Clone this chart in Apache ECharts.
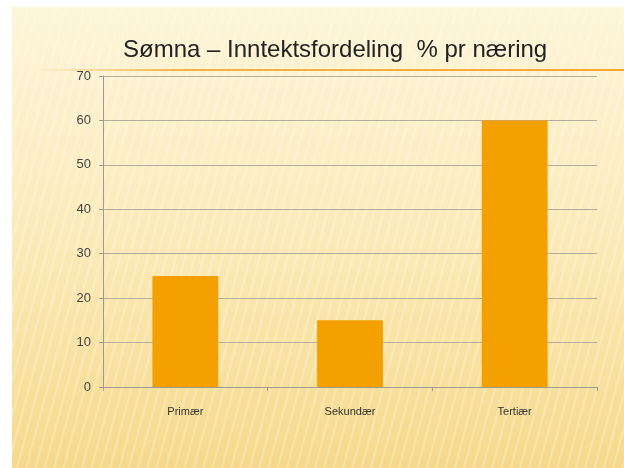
<!DOCTYPE html>
<html>
<head>
<meta charset="utf-8">
<script src="https://cdn.jsdelivr.net/npm/echarts@6/dist/echarts.min.js"></script>
<style>
    html, body { margin: 0; padding: 0; background: #fff; }
    .slide {
        position: absolute; left: 12px; top: 7px; width: 612px; height: 461px;
        background:
            repeating-linear-gradient(105deg, rgba(255,255,255,0) 0px, rgba(255,255,255,0) 5px, rgba(255,255,255,0.28) 7px, rgba(255,255,255,0) 9px),
            linear-gradient(180deg, #fdf5d8 0%, #fcedc0 40%, #f9e2a2 75%, #f6d88a 100%);
    }
    .chartcon { position: absolute; left: 0; top: 0; width: 624px; height: 468px; }
</style>
</head>
<body>
<div class="slide"></div>
<div class="chartcon" id="barChart"></div>
<script>
    // 数据
    let categories = ['Primær', 'Sekundær', 'Tertiær'];
    let values = [25, 15, 60];
    let yTicks = [0, 10, 20, 30, 40, 50, 60, 70];

    let myChart = echarts.init(document.getElementById('barChart'));
    myChart.setOption({
        backgroundColor: 'transparent',
        textStyle: { fontFamily: 'Liberation Sans' },
        title: {
            text: 'Sømna – Inntektsfordeling  % pr næring',
            left: 118,
            top: 33,
            textStyle: {
                fontFamily: 'Liberation Sans',
                fontSize: 24,
                fontWeight: 'normal',
                color: '#222'
            }
        },
        graphic: [{
            type: 'line',
            shape: { x1: 38, y1: 70, x2: 624, y2: 70 },
            style: {
                lineWidth: 2,
                stroke: new echarts.graphic.LinearGradient(0, 0, 1, 0, [
                    { offset: 0, color: 'rgba(245,170,50,0)' },
                    { offset: 0.25, color: 'rgba(245,170,50,0.9)' },
                    { offset: 1, color: '#f4a830' }
                ])
            },
            z: 0
        }],
        grid: {
            left: 103,
            right: 27,
            top: 76,
            bottom: 81
        },
        xAxis: {
            type: 'category',
            data: categories,
            axisLine: { lineStyle: { color: '#9f9b92' } },
            axisTick: { show: true, length: 4, lineStyle: { color: '#9f9b92' } },
            axisLabel: { margin: 19, fontSize: 11, color: '#333' }
        },
        yAxis: {
            type: 'value',
            min: yTicks[0],
            max: yTicks[yTicks.length - 1],
            interval: 10,
            axisLine: { show: true, lineStyle: { color: '#9f9b92' } },
            axisTick: { show: true, length: 4, lineStyle: { color: '#9f9b92' } },
            axisLabel: { margin: 12, fontSize: 13, color: '#444' },
            splitLine: { show: true, lineStyle: { color: '#b3ad9f', width: 1 } }
        },
        series: [{
            type: 'bar',
            data: values,
            barWidth: '40%',
            itemStyle: { color: '#f3a000' }
        }]
    });
</script>
</body>
</html>
